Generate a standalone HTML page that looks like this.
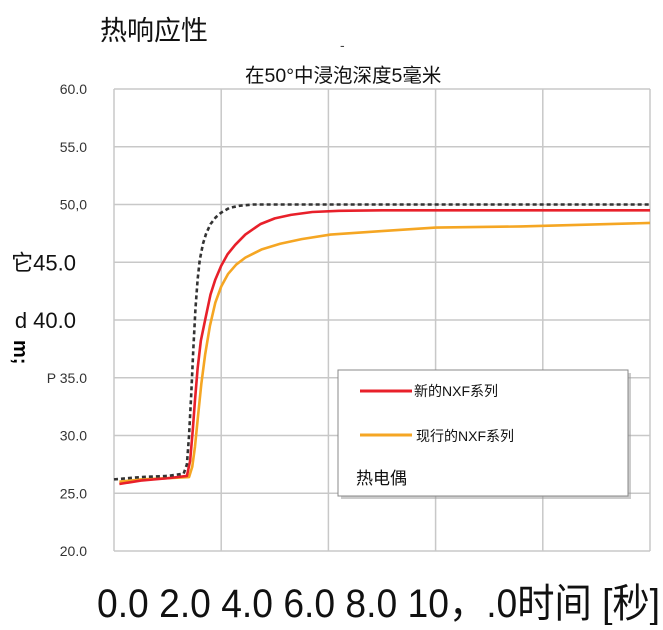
<!DOCTYPE html>
<html><head><meta charset="utf-8"><style>
body{margin:0;background:#fff;}
svg text{font-family:"Liberation Sans","Noto Sans CJK SC",sans-serif;}
</style></head><body>
<svg id="chart" width="663" height="625" viewBox="0 0 663 625">
<text x="100" y="40" font-size="27" fill="#111">热响应性</text>
<text x="340" y="50" font-size="14" fill="#444">-</text>
<text x="245" y="82" font-size="19.5" fill="#111">在50°中浸泡深度5毫米</text>
<g id="grid"></g>
<g id="ylabels"></g>
<g id="series"></g>
<g>
<rect x="341" y="373" width="290" height="126" fill="#999" opacity="0.5"/>
<rect x="338" y="370" width="290" height="126" fill="#fff" stroke="#888" stroke-width="1"/>
<line x1="360" y1="391" x2="412" y2="391" stroke="#e8202a" stroke-width="3"/>
<text x="414" y="396" font-size="14" fill="#111">新的NXF系列</text>
<line x1="360" y1="435" x2="412" y2="435" stroke="#f5a623" stroke-width="3"/>
<text x="416" y="441" font-size="14" fill="#111">现行的NXF系列</text>
<text x="356" y="484" font-size="17" fill="#111">热电偶</text>
</g>
<text x="97" y="617" font-size="40" fill="#111" textLength="563" lengthAdjust="spacingAndGlyphs">0.0 2.0 4.0 6.0 8.0 10，.0时间 [秒]</text>
</svg>
<script>
const yTicks=[20,25,30,35,40,45,50,55,60];
const yTickLabels=["20.0","25.0","30.0","P 35.0","d 40.0","它45.0","50,0","55.0","60.0"];
const xGrid=[0,2,4,6,8,10];
const dashedT=[0,0.5,1.0,1.30,1.36,1.40,1.44,1.48,1.52,1.56,1.60,1.66,1.72,1.80,1.90,2.0,2.15,2.35,2.6,3,5,7,10];
const dashedV=[26.2,26.4,26.5,26.7,27.5,30,33.5,37.5,41,43.5,45.2,46.6,47.5,48.3,48.9,49.3,49.7,49.9,50,50,50,50,50];
const redT=[0.1,0.5,1.0,1.36,1.42,1.47,1.51,1.56,1.62,1.7,1.8,1.89,2.0,2.12,2.26,2.45,2.73,3.0,3.3,3.7,4.2,5,7,10];
const redV=[25.8,26.1,26.3,26.5,27.8,30.5,33,35.8,38.2,40,42.2,43.5,44.7,45.7,46.5,47.4,48.3,48.8,49.1,49.35,49.45,49.5,49.5,49.5];
const orangeT=[0.1,0.5,1.0,1.40,1.46,1.51,1.57,1.63,1.7,1.79,1.89,2.0,2.13,2.28,2.45,2.75,3.1,3.5,4.04,5.0,6.0,7.6,10];
const orangeV=[26.0,26.2,26.3,26.4,27.3,29,31.8,34.5,37,39.5,41.5,42.9,44,44.8,45.4,46.1,46.6,47.0,47.4,47.7,48.0,48.1,48.4];
const L=114,R=650,T=89,B=551,X0=0,X1=10,Y0=20,Y1=60;
const xs=t=>L+(t-X0)/(X1-X0)*(R-L);
const ys=v=>B-(v-Y0)/(Y1-Y0)*(B-T);
const NS="http://www.w3.org/2000/svg";
const grid=document.getElementById('grid');
yTicks.forEach(v=>{const l=document.createElementNS(NS,'line');
l.setAttribute('x1',L);l.setAttribute('x2',R);l.setAttribute('y1',ys(v));l.setAttribute('y2',ys(v));
l.setAttribute('stroke','#c8c8c8');l.setAttribute('stroke-width','1.5');


grid.appendChild(l);});
xGrid.forEach(t=>{const l=document.createElementNS(NS,'line');
l.setAttribute('x1',xs(t));l.setAttribute('x2',xs(t));l.setAttribute('y1',T);l.setAttribute('y2',B);
l.setAttribute('stroke','#c8c8c8');l.setAttribute('stroke-width','1.5');


grid.appendChild(l);});
const yl=document.getElementById('ylabels');
yTicks.forEach((v,i)=>{const t=document.createElementNS(NS,'text');
const lab=yTickLabels[i];const big=(v===40||v===45);
t.setAttribute('x',big?76:87);t.setAttribute('y',ys(v)+(big?8:5));
t.setAttribute('text-anchor','end');t.setAttribute('font-size',big?'22':'14');
t.setAttribute('fill',big?'#111':'#333');t.textContent=lab;


yl.appendChild(t);});
const m=document.createElementNS(NS,'text');
m.setAttribute('x',4);m.setAttribute('y',350);m.setAttribute('font-size','20');m.setAttribute('font-weight','bold');
m.setAttribute('transform','rotate(90 14 350)');m.textContent='m;';


yl.appendChild(m);
const se=document.getElementById('series');
function draw(T_,V_,color,dash,name){const p=document.createElementNS(NS,'polyline');
p.setAttribute('points',T_.map((t,i)=>xs(t)+','+ys(V_[i])).join(' '));
p.setAttribute('fill','none');p.setAttribute('stroke',color);p.setAttribute('stroke-width','2.6');
p.setAttribute('stroke-linejoin','round');
if(dash)p.setAttribute('stroke-dasharray',dash);


se.appendChild(p);}
draw(orangeT,orangeV,'#f5a623',null,'current-nxf-line');
draw(redT,redV,'#e8202a',null,'new-nxf-line');
draw(dashedT,dashedV,'#333',"4,3",'thermocouple-line');
</script>
</body></html>
